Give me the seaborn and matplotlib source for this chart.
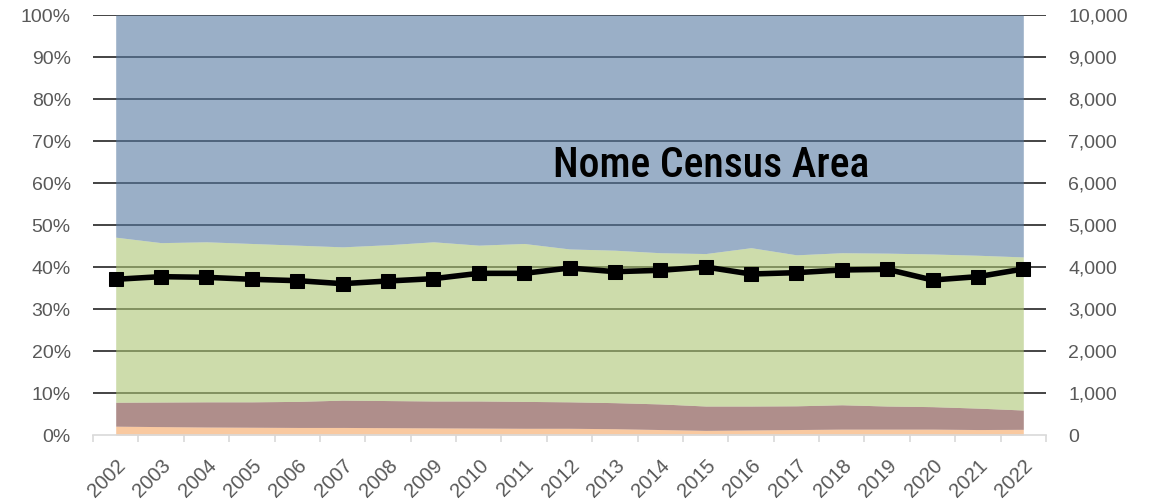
import numpy as np
import pandas as pd
import matplotlib
matplotlib.use("Agg")
import matplotlib.pyplot as plt
from matplotlib import font_manager
from matplotlib.font_manager import FontProperties
from matplotlib.ticker import FixedLocator
import seaborn as sns

years = [str(y) for y in range(2002, 2023)]
# percentage shares of each stacked layer (bottom to top)
share_orange = [2.1, 2.0, 1.9, 1.85, 1.8, 1.8, 1.75, 1.7, 1.65, 1.6, 1.6, 1.5, 1.3, 1.1, 1.2, 1.3, 1.4, 1.4, 1.4, 1.3, 1.35]
share_brown = [5.7, 5.85, 6.0, 6.05, 6.2, 6.5, 6.45, 6.4, 6.45, 6.4, 6.3, 6.2, 6.1, 5.8, 5.7, 5.65, 5.8, 5.5, 5.35, 5.1, 4.6]
share_green = [39.3, 37.95, 38.1, 37.7, 37.2, 36.5, 37.1, 37.9, 37.1, 37.6, 36.4, 36.3, 36.0, 36.3, 37.7, 35.95, 36.2, 36.4, 36.35, 36.4, 36.45]
share_blue = [52.9, 54.2, 54.0, 54.4, 54.8, 55.2, 54.7, 54.0, 54.8, 54.4, 55.7, 56.0, 56.6, 56.8, 55.4, 57.1, 56.6, 56.7, 56.9, 57.2, 57.6]
# total (right axis)
total = [3707, 3770, 3754, 3707, 3675, 3603, 3667, 3722, 3849, 3849, 3976, 3889, 3921, 4000, 3833, 3865, 3929, 3945, 3690, 3770, 3952]

pct_ticks = [f"{v}%" for v in range(0, 101, 10)]
num_ticks = [f"{v:,}" for v in range(0, 10001, 1000)]
title = "Nome Census Area"

sns.set_theme(style="white")
fonts = font_manager.fontManager.ttflist
available = {f.name for f in fonts}
base_font = "Liberation Sans" if "Liberation Sans" in available else "DejaVu Sans"
plt.rcParams["font.family"] = [base_font, "DejaVu Sans"]


def is_condensed(f):
    st = f.stretch
    if isinstance(st, str):
        return st in ("condensed", "semi-condensed", "extra-condensed", "ultra-condensed")
    try:
        return int(st) < 500
    except Exception:
        return False


def weight_num(w):
    if isinstance(w, (int, float)):
        return int(w)
    table = {"ultralight": 200, "light": 300, "normal": 400, "regular": 400, "book": 400,
             "medium": 500, "semibold": 600, "demibold": 600, "bold": 700, "heavy": 800,
             "extra bold": 800, "black": 900}
    return table.get(str(w).lower(), 400)


prefs = ["Liberation Sans Narrow", "Roboto Condensed", "Open Sans Condensed", "Noto Sans Condensed",
         "Noto Sans", "Roboto", "Open Sans", "DejaVu Sans", "Liberation Sans"]
cands = [f for f in fonts if is_condensed(f) or "Narrow" in f.name or "Condensed" in f.name
         or "Narrow" in f.fname or "Condensed" in f.fname]
cands = [f for f in cands if "Italic" not in f.fname and "Oblique" not in f.fname and f.style == "normal"]
if cands:
    def score(f):
        rank = prefs.index(f.name) if f.name in prefs else len(prefs)
        return (abs(weight_num(f.weight) - 500), rank)
    cands.sort(key=score)
    title_prop = FontProperties(fname=cands[0].fname, size=30)
else:
    title_prop = FontProperties(family=[base_font, "DejaVu Sans"], size=25)

W, H = 1163, 504
fig = plt.figure(figsize=(W / 100, H / 100), dpi=100)
L, R, B, T = 93, 1046, 435, 15
ax = fig.add_axes([L / W, 1 - B / H, (R - L) / W, (B - T) / H])

x = np.arange(len(years))
alpha = 0.6
cols = ["#F5A561", "#7A433E", "#ACC573", "#577AA2"]
ax.stackplot(x, share_orange, share_brown, share_green, share_blue,
             colors=cols, alpha=alpha, linewidth=0, zorder=2)

ax.set_xlim(-0.5, len(years) - 0.5)
ax.set_ylim(0, 100)
ax.yaxis.set_major_locator(FixedLocator(range(0, 101, 10)))
ax.set_yticklabels(pct_ticks)
for v in range(10, 101, 10):
    ax.axhline(v, color="#111111", lw=1.1, zorder=1)

ax.set_xticks(x)
ax.set_xticklabels(years, rotation=45, ha="right", rotation_mode="anchor")
ax.set_xticks(np.arange(-0.5, len(years)), minor=True)
ax.tick_params(axis="x", which="major", length=0, pad=15, labelsize=14.5, colors="#595959")
ax.tick_params(axis="x", which="minor", length=5, width=1.2, color="#D9D9D9", direction="out", bottom=True)
ax.tick_params(axis="y", length=0, pad=16, labelsize=14, colors="#595959")
for s in ["left", "right", "top"]:
    ax.spines[s].set_visible(False)
ax.spines["bottom"].set_color("#D9D9D9")
ax.spines["bottom"].set_linewidth(1.2)
ax.spines["bottom"].set_zorder(3)

ax.text(13.11, 61.5, title, ha="center", va="baseline", fontproperties=title_prop,
        color="black", zorder=5)

ax2 = ax.twinx()
df = pd.DataFrame({"x": x, "total": total})
sns.lineplot(data=df, x="x", y="total", ax=ax2, color="black", lw=4,
             marker="s", markersize=10, markeredgecolor="black", zorder=4)
ax2.set_ylim(0, 10000)
ax2.yaxis.set_major_locator(FixedLocator(range(0, 10001, 1000)))
ax2.set_yticklabels(num_ticks)
ax2.set_ylabel("")
ax2.set_xlabel("")
ax2.tick_params(axis="y", length=0, pad=16, labelsize=14, colors="#595959")
for s in ["left", "right", "top", "bottom"]:
    ax2.spines[s].set_visible(False)
ax2.grid(False)
ax.set_xlim(-0.5, len(years) - 0.5)

fig.savefig("out.png", dpi=100)
